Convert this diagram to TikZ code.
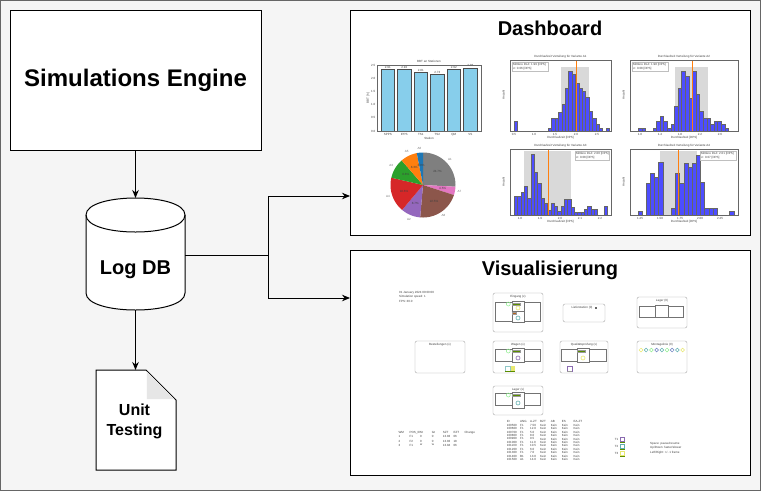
\documentclass[tikz,border=0pt]{standalone}
\usepackage{fontspec}
\setmainfont{Liberation Sans}
\usetikzlibrary{arrows.meta}
\definecolor{bgc}{HTML}{F5F5F5}
\definecolor{skyb}{HTML}{87CEEB}
\definecolor{tabblue}{HTML}{1F77B4}
\definecolor{taborange}{HTML}{FF7F0E}
\definecolor{tabgreen}{HTML}{2CA02C}
\definecolor{tabred}{HTML}{D62728}
\definecolor{tabpurple}{HTML}{9467BD}
\definecolor{tabbrown}{HTML}{8C564B}
\definecolor{tabpink}{HTML}{E377C2}
\definecolor{tabgray}{HTML}{7F7F7F}
\definecolor{histblue}{HTML}{4D4DFF}
\definecolor{bandg}{HTML}{D9D9D9}
\definecolor{foldg}{HTML}{E6E6E6}
\definecolor{lgreen}{HTML}{90EE90}
\definecolor{olivebar}{HTML}{5B8C00}
\definecolor{ylw}{HTML}{E8E870}
\definecolor{teal2}{HTML}{5FAFAF}
\definecolor{purp2}{HTML}{8A6AB0}
\definecolor{brn}{HTML}{B5651D}
\definecolor{bluec}{HTML}{6A7FC0}
\begin{document}
\begin{tikzpicture}[x=1pt,y=-1pt,
  box/.style={draw=black, line width=1pt, fill=white, inner sep=0pt},
  arr/.style={-{Stealth[length=8pt,width=6.5pt]}, line width=0.9pt},
  bigtitle/.style={font=\bfseries\fontsize{24}{28}\selectfont},
  midtitle/.style={font=\bfseries\fontsize{20}{24}\selectfont},
  mini/.style={font=\fontsize{3}{3.6}\selectfont, inner sep=0pt, text=black!75},
  axisframe/.style={draw=black!60, line width=0.3pt},
  histbar/.style={fill=histblue, draw=black!60, line width=0.15pt},
  meanline/.style={draw=taborange, line width=0.5pt},
  vbox/.style={draw=black!35, fill=white, rounded corners=2pt, line width=0.4pt},
  cell/.style={draw=black!55, fill=white, line width=0.35pt},
  legbox/.style={draw=black!25, fill=white, line width=0.2pt},
]
\useasboundingbox (0,0) rectangle (761,491);
\fill[bgc] (0,0) rectangle (761,491);
\draw[black!60, line width=1.2pt] (0.6,0.6) rectangle (760.4,490.4);

% ---------- Simulations Engine ----------
\node[box, bigtitle, minimum width=251pt, minimum height=140pt] (sim) at (135.5,80) {Simulations Engine};

% ---------- Log DB cylinder ----------
\filldraw[fill=white, line width=1pt] (86,215) -- (86,293) .. controls (86,315.67) and (185,315.67) .. (185,293) -- (185,215) .. controls (185,192.33) and (86,192.33) .. (86,215) -- cycle;
\draw[line width=1pt] (86,215) .. controls (86,237.67) and (185,237.67) .. (185,215);
\node[midtitle] (db) at (135.5,270) {Log DB};
\coordinate (dbtop) at (135.5,198);
\coordinate (dbbot) at (135.5,310);
\coordinate (dbright) at (185,255);
\coordinate (split) at (268,255);

% ---------- Unit Testing document ----------
\filldraw[fill=white, line width=1pt] (96,370) -- (146,370) -- (176,400) -- (176,470) -- (96,470) -- cycle;
\fill[foldg] (146.8,371.5) -- (174.5,399.2) -- (146.8,399.2) -- cycle;
\node[font=\bfseries\fontsize{16}{20}\selectfont, align=center] (ut) at (134.5,421) {Unit\\Testing};
\coordinate (uttop) at (135.5,370);

% ---------- Dashboard / Visualisierung frames ----------
\node[box, minimum width=400pt, minimum height=225pt] (dash) at (550,122.5) {};
\node[midtitle] (dasht) at (550,28) {Dashboard};
\node[box, minimum width=400pt, minimum height=225pt] (vis) at (550,362.5) {};
\node[midtitle] (vist) at (550,270) {Visualisierung};
\coordinate (dashin) at (350,196);
\coordinate (visin) at (350,298);

% ---------- connectors ----------
\draw[arr] (sim.south) -- (dbtop);
\draw[arr] (dbbot) -- (uttop);
\draw[arr] (dbright) -- (split) |- (dashin);
\draw[arr] (split) |- (visin);

% ---------- Bar chart ----------
\foreach \xa/\yt/\v in {381/69.3/2.91, 397.5/69/2.92, 414/72/2.81, 430.5/74.3/2.73, 447/69/2.92, 463.5/67.7/2.98}{
  \filldraw[fill=skyb, draw=black!70, line width=0.3pt] (\xa,\yt) rectangle ++(13.5,{131-\yt});
  \node[mini] at ({\xa+6.75},{\yt-2}) {\v};
}
\draw[axisframe] (377,65) rectangle (481,131);
\node[mini] (bart) at (429,61.5) {BBT an Stationen};
\foreach \yy/\lab in {131/0.0, 117.8/0.5, 104.6/1.0, 91.4/1.5, 78.2/2.0, 65/2.5}{\node[mini, anchor=east] at (375.5,\yy) {\lab};}
\foreach \xa/\lab in {381/SPPS, 397.5/IPPS, 414/TS1, 430.5/TS2, 447/QM, 463.5/VS}{\node[mini] at ({\xa+6.75},134.5) {\lab};}
\node[mini] at (429,138.5) {Station};
\node[mini, rotate=90] at (368,98) {BBT [h]};

% ---------- Pie chart ----------
\foreach \a/\b/\c in {90/-3/tabgray, -3/-18/tabpink, -18/-95/tabbrown, -95/-130/tabpurple, -130/-193/tabred, 167/131/tabgreen, 131/101/taborange, 101/90/tabblue}{
  \fill[\c] (423,185) -- plot[domain=\a:\b, samples=30] ({423+32.5*cos(\x)},{185-32.5*sin(\x)}) -- cycle;
}
\foreach \m/\p/\l in {43.5/24.7\%/A1, -10.5/4.5\%/A7, -56.5/22.5\%/A8, -112.5/8.7\%/A2, -161.5/18.6\%/A4, 149/8.8\%/A3, 116/8.3\%/A5, 95.5/3.0\%/A6}{
  \node[mini] at ({423+20*cos(\m)},{185-20*sin(\m)}) {\p};
  \node[mini, text=black!55] at ({423+37*cos(\m)},{185-37*sin(\m)}) {\l};
}

% ---------- Histogram 1 ----------
\fill[bandg] (560.7,67.3) rectangle (589.3,131);
\foreach \i/\h in {0/10, 10/3, 11/13, 12/13, 13/19, 14/27, 15/43, 16/60, 17/57, 18/48, 19/43, 20/40, 21/34, 22/20, 23/13, 24/7, 25/3, 27/3}{
  \filldraw[histbar] ({514+3.4*\i},131) rectangle ++(3.4,-\h);}
\draw[meanline] (575.8,60) -- (575.8,131);
\draw[axisframe] (510,60) rectangle (611,131);
\filldraw[legbox] (512,62) rectangle (548,71.5);
\node[mini, anchor=west] at (513,64.5) {Mittlere DLZ: 1.99 [DPS]};
\node[mini, anchor=west] at (513,68.8) {σ: 0.06 [DPS]};
\node[mini] (h1t) at (560.5,56.5) {Durchlaufzeit Verteilung für Variante A1};
\node[mini] at (560.5,138) {Durchlaufzeit [DPS]};
\node[mini, rotate=90] at (503.5,95) {Anzahl};
\foreach \xx/\lab in {514/0.5, 534/1.0, 555/1.5, 576/2.0, 597/2.5}{\node[mini] at (\xx,134) {\lab};}

% ---------- Histogram 2 ----------
\fill[bandg] (675,67.3) rectangle (708.3,131);
\foreach \i/\h in {0/2.7, 1/2.7, 4/2.7, 5/10, 6/15, 7/10, 8/3.3, 9/7.3, 10/25, 11/43, 12/60, 13/55, 14/33, 15/60, 16/37, 17/20, 18/13, 19/13, 20/7, 21/10, 22/10, 23/7, 24/3.3}{
  \filldraw[histbar] ({638.3+3.6*\i},131) rectangle ++(3.6,-\h);}
\draw[meanline] (692.7,60) -- (692.7,131);
\draw[axisframe] (630,60) rectangle (738,131);
\filldraw[legbox] (632,62) rectangle (668,71.5);
\node[mini, anchor=west] at (633,64.5) {Mittlere DLZ: 1.98 [DPS]};
\node[mini, anchor=west] at (633,68.8) {σ: 0.08 [DPS]};
\node[mini] (h2t) at (684,56.5) {Durchlaufzeit Verteilung für Variante A2};
\node[mini] at (684,138) {Durchlaufzeit [DPS]};
\node[mini, rotate=90] at (623.5,95) {Anzahl};
\foreach \xx/\lab in {640/1.0, 660/1.4, 680/1.8, 700/2.2, 720/2.6}{\node[mini] at (\xx,134) {\lab};}

% ---------- Histogram 3 ----------
\fill[bandg] (524.3,151) rectangle (571,215);
\foreach \i/\h in {0/19, 1/19, 2/23, 3/29, 4/17, 5/61, 6/43, 7/32, 8/17, 9/12, 10/5, 11/12, 12/9, 13/4, 14/9, 15/16, 16/16, 17/8, 18/3.3, 19/3.3, 20/3.3, 21/6, 22/9, 23/6, 24/6, 27/9}{
  \filldraw[histbar] ({514+3.33*\i},215) rectangle ++(3.33,-\h);}
\draw[meanline] (548.4,149) -- (548.4,215);
\draw[axisframe] (510,149) rectangle (611,215);
\filldraw[legbox] (575,151) rectangle (609,160.5);
\node[mini, anchor=west] at (576,153.5) {Mittlere DLZ: 2.00 [DPS]};
\node[mini, anchor=west] at (576,157.8) {σ: 0.08 [DPS]};
\node[mini] (h3t) at (560.5,145.5) {Durchlaufzeit Verteilung für Variante A3};
\node[mini] at (560.5,222) {Durchlaufzeit [DPS]};
\node[mini, rotate=90] at (503.5,182) {Anzahl};
\foreach \xx/\lab in {520/1.8, 540/1.9, 560/2.0, 580/2.1, 600/2.2}{\node[mini] at (\xx,218) {\lab};}

% ---------- Histogram 4 ----------
\fill[bandg] (660,151) rectangle (696.7,215);
\foreach \i/\h in {0/4, 2/32, 3/42, 4/38, 5/53, 8/7, 9/42, 10/32, 11/52, 12/48, 13/52, 14/60, 15/33, 16/7, 17/7, 18/7, 22/4}{
  \filldraw[histbar] ({637.7+4.17*\i},215) rectangle ++(4.17,-\h);}
\draw[meanline] (678.3,149) -- (678.3,215);
\draw[axisframe] (630,149) rectangle (738,215);
\filldraw[legbox] (700,151) rectangle (736,160.5);
\node[mini, anchor=west] at (701,153.5) {Mittlere DLZ: 2.01 [DPS]};
\node[mini, anchor=west] at (701,157.8) {σ: 0.07 [DPS]};
\node[mini] (h4t) at (684,145.5) {Durchlaufzeit Verteilung für Variante A4};
\node[mini] at (684,222) {Durchlaufzeit [DPS]};
\node[mini, rotate=90] at (623.5,182) {Anzahl};
\foreach \xx/\lab in {640/1.25, 660/1.50, 680/1.75, 700/2.00, 720/2.25}{\node[mini] at (\xx,218) {\lab};}

% ---------- Visualisierung content ----------
\node[mini, anchor=west] (vinfo1) at (399,293) {01 January 2024 00:00:00};
\node[mini, anchor=west] (vinfo2) at (399,297) {Simulation speed: 1};
\node[mini, anchor=west] (vinfo3) at (399,301) {FPS: 30.0};

% Eingang
\draw[vbox] (493,293) rectangle (543,332);
\node[mini] at (518,296.5) {Eingang (x)};
\draw[cell] (495,302) rectangle (511.7,320.7);
\draw[cell] (524.3,302) rectangle (540,320.7);
\draw[cell] (511.7,301.5) rectangle (524.3,322);
\draw[black!55, line width=0.3pt] (511.7,311.5) -- (524.3,311.5);
\draw[lgreen, line width=0.5pt] (508.3,304) circle[radius=2pt];
\filldraw[fill=olivebar, draw=black!40, line width=0.2pt] (512,303) rectangle (520,305);
\draw[ylw, line width=0.6pt] (518,308) circle[radius=2pt];
\filldraw[fill=brn, draw=black!40, line width=0.2pt] (512,312.5) rectangle (516,314.5);
\draw[teal2, line width=0.6pt] (518,318) circle[radius=2pt];

% Lieferstation
\draw[vbox] (563,304) rectangle (605,322);
\node[mini] at (582,308) {Lieferstation (0)};
\fill[black!60] (594.5,306.8) rectangle (596.5,308.8);

% Lager
\draw[vbox] (637,297) rectangle (687,328);
\node[mini] at (662,300.5) {Lager (0)};
\draw[cell] (639,306) rectangle (655,316.7);
\draw[cell] (667.7,306) rectangle (683.3,316.7);
\draw[cell] (655,305) rectangle (667.7,317.3);

% Bestellungen
\draw[vbox] (415,341) rectangle (465,373);
\node[mini] at (440,345) {Bestellungen (x)};

% Wagen
\draw[vbox] (493,341) rectangle (543,373);
\node[mini] at (518,345) {Wagen (x)};
\draw[cell] (495,349) rectangle (511.7,361);
\draw[cell] (524.3,349) rectangle (540,361);
\draw[cell] (511.7,348.5) rectangle (524.3,362);
\draw[lgreen, line width=0.5pt] (508.3,351) circle[radius=2pt];
\filldraw[fill=olivebar, draw=black!40, line width=0.2pt] (512,350.5) rectangle (520,352.5);
\draw[purp2, line width=0.6pt] (518,358) circle[radius=2pt];
\draw[teal2!70, line width=0.4pt] (505,366) rectangle (510,371);
\fill[ylw] (510.5,366) rectangle (514.5,371);
\fill[olivebar] (505,371) rectangle (514.5,372);

% Qualitaetspruefung
\draw[vbox] (560,341) rectangle (608,373);
\node[mini] at (584,345) {Qualitätsprüfung (x)};
\draw[cell] (561.5,349) rectangle (577,361);
\draw[cell] (589.5,349) rectangle (606.5,361);
\draw[cell] (577,348.5) rectangle (589.5,362);
\filldraw[fill=olivebar, draw=black!40, line width=0.2pt] (577.5,350.5) rectangle (585,352.5);
\draw[ylw, line width=0.6pt] (583,358) circle[radius=2pt];
\draw[purp2, line width=0.4pt] (567,366) rectangle (572,371);
\fill[black!40] (567,371) rectangle (572,372);

% Montagelinie
\draw[vbox] (637,341) rectangle (687,373);
\node[mini] at (662,345) {Montagelinie (0)};
\foreach \k/\c in {0/ylw, 1/teal2, 2/lgreen, 3/bluec, 4/teal2, 5/lgreen, 6/bluec, 7/teal2, 8/ylw}{
  \draw[\c, line width=0.5pt] ({641+5.2*\k},350) circle[radius=1.9pt];}

% Lager unten
\draw[vbox] (493,386) rectangle (543,415);
\node[mini] at (518,389.5) {Lager (x)};
\draw[cell] (495,393) rectangle (511.7,405);
\draw[cell] (524.3,393) rectangle (540,405);
\draw[cell] (511.7,392.5) rectangle (524.3,408);
\draw[lgreen, line width=0.5pt] (508.3,395) circle[radius=2pt];
\filldraw[fill=olivebar, draw=black!40, line width=0.2pt] (512,394.5) rectangle (520,396.5);
\draw[teal2, line width=0.6pt] (518,403) circle[radius=2pt];

% left table
\foreach \xx/\lab in {398.3/WM, 409.3/POS\_ID, 420/St, 431.7/Gt, 442.7/SZT, 453.3/EZT, 464.3/Change}{\node[mini, anchor=west] at (\xx,432.7) {\lab};}
\foreach \yy/\a/\b/\c/\d/\e/\f in {436.9/1/F1/0/0/13.83/06/11, 441/2/F2/0/0/13.83/18/18, 445.1/3/F1/w/w/13.84/06/11}{
  \node[mini, anchor=west] at (398.3,\yy) {\a};
  \node[mini, anchor=west] at (409.3,\yy) {\b};
  \node[mini, anchor=west] at (420,\yy) {\c};
  \node[mini, anchor=west] at (431.7,\yy) {\d};
  \node[mini, anchor=west] at (442.7,\yy) {\e};
  \node[mini, anchor=west] at (453.3,\yy) {\f};
}

% middle table
\foreach \xx/\lab in {506.7/ID, 520/ANG, 530/A-ZT, 540/BZT, 550.7/AB, 561.7/ES, 573.3/EA-ZT}{\node[mini, anchor=west] at (\xx,421.7) {\lab};}
\foreach \r/\id/\ang/\az in {1/100500/F1/7.50, 2/100600/F1/12.0, 3/100700/F1/5.0, 4/100800/F1/8.0, 5/100900/F1/9.5, 6/101000/F1/11.0, 7/101100/F1/10.5, 8/101200/F1/6.0, 9/101300/F1/7.0, 10/101400/B1/13.0, 11/101500/A1/14.0}{
  \node[mini, anchor=west] at (506.7,{421.7+3.45*\r}) {\id};
  \node[mini, anchor=west] at (520,{421.7+3.45*\r}) {\ang};
  \node[mini, anchor=west] at (530,{421.7+3.45*\r}) {\az};
  \node[mini, anchor=west] at (540,{421.7+3.45*\r}) {Kein};
  \node[mini, anchor=west] at (550.7,{421.7+3.45*\r}) {Kein};
  \node[mini, anchor=west] at (561.7,{421.7+3.45*\r}) {Kein};
  \node[mini, anchor=west] at (573.3,{421.7+3.45*\r}) {Kein};
}

% legend
\foreach \yy/\c/\t in {437/purp2/T1, 444/teal2/T2, 451/ylw/T3}{
  \draw[\c, line width=0.5pt] (620,\yy) rectangle (624.5,{\yy+4.5});
  \fill[olivebar] (620,{\yy+4.8}) rectangle (624.5,{\yy+5.8});
  \node[mini, anchor=east] at (618.5,{\yy+2.3}) {\t};
}
\node[mini, anchor=west] (leg1) at (650,443.7) {Space: pause/resume};
\node[mini, anchor=west] (leg2) at (650,448.2) {Up/Down: faster/slower};
\node[mini, anchor=west] (leg3) at (650,452.7) {Left/Right: +/- 1 frame};
\end{tikzpicture}
\end{document}
